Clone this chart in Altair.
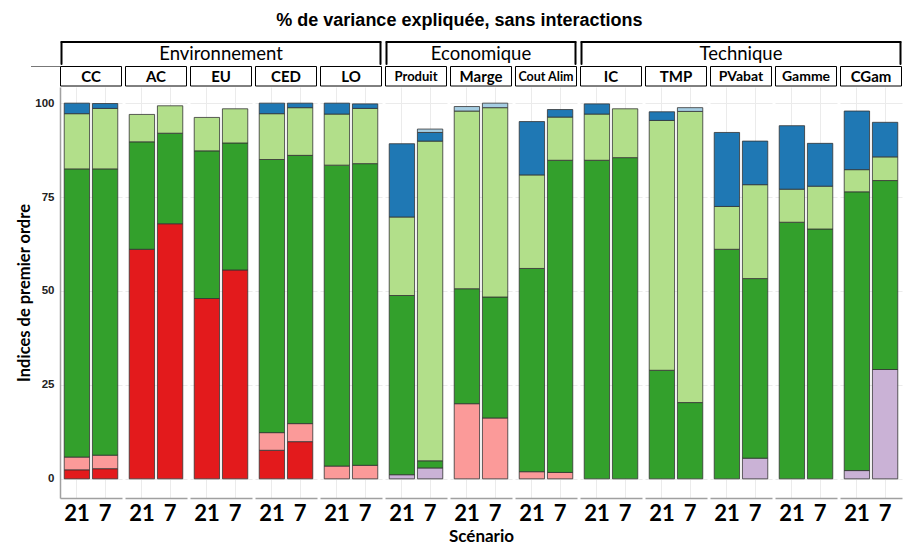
import altair as alt
import pandas as pd

# ---- data -------------------------------------------------------------
indicators = ["CC", "AC", "EU", "CED", "LO", "Produit", "Marge", "Cout Alim",
              "IC", "TMP", "PVabat", "Gamme", "CGam"]
group_names = ["Environnement", "Economique", "Technique"]
group_sizes = [5, 3, 5]
scenarios = ["21", "7"]

series = ["lavande", "rouge", "rose", "vert_fonce", "vert_clair", "bleu_fonce", "bleu_clair"]
colors = ["#cab2d6", "#e31a1c", "#fb9a99", "#33a02c", "#b2df8a", "#1f78b4", "#a6cee3"]

# one value per (indicator, scenario): CC21, CC7, AC21, AC7, ...
lavande = [0, 0, 0, 0, 0, 0, 0, 0, 0, 0, 1.1, 2.9, 0, 0, 0, 0,
           0, 0, 0, 0, 0, 5.5, 0, 0, 2.2, 29.1]
rouge = [2.4, 2.7, 61.1, 67.9, 48.0, 55.6, 7.6, 9.9, 0, 0, 0, 0, 0, 0, 0, 0,
         0, 0, 0, 0, 0, 0, 0, 0, 0, 0]
rose = [3.4, 3.6, 0, 0, 0, 0, 4.7, 4.8, 3.4, 3.6, 0, 0, 20.0, 16.2, 1.9, 1.7,
        0, 0, 0, 0, 0, 0, 0, 0, 0, 0]
vert_fonce = [76.7, 76.2, 28.6, 24.1, 39.3, 33.8, 72.7, 71.4, 80.1, 80.3, 47.7, 1.9,
              30.6, 32.2, 54.1, 83.1, 84.8, 85.5, 28.9, 20.3, 61.1, 47.8, 68.3, 66.5,
              74.2, 50.3]
vert_clair = [14.7, 16.1, 7.3, 7.3, 8.9, 9.1, 12.2, 12.7, 13.6, 14.7, 20.9, 85.1,
              47.3, 50.4, 24.9, 11.5, 12.3, 13.0, 66.5, 77.5, 11.4, 25.0, 8.8, 11.4,
              5.9, 6.3]
bleu_fonce = [2.8, 1.3, 0, 0, 0, 0, 2.8, 1.2, 2.9, 1.2, 19.5, 2.3, 0, 0, 14.2, 2.0,
              2.7, 0, 2.3, 0, 19.7, 11.6, 16.9, 11.4, 15.6, 9.2]
bleu_clair = [0, 0, 0, 0, 0, 0, 0, 0, 0, 0, 0, 0.9, 1.2, 1.2, 0, 0,
              0, 0, 0, 1.0, 0, 0, 0, 0, 0, 0]

series_values = [lavande, rouge, rose, vert_fonce, vert_clair, bleu_fonce, bleu_clair]

rows = []
for i, ind in enumerate(indicators):
    for j, sc in enumerate(scenarios):
        for k, s in enumerate(series):
            v = series_values[k][2 * i + j]
            if v > 0:
                rows.append({"indicator": ind, "scenario": sc, "series": s,
                             "rank": k, "value": v})
df = pd.DataFrame(rows)

# ---- layout -----------------------------------------------------------
W, S, H = 62, 3, 411
strip_sizes = {"Produit": 13, "Cout Alim": 12.5, "PVabat": 14, "Gamme": 14}
group_start = {}
start = 0
for g, n in zip(group_names, group_sizes):
    group_start[start] = (g, n)
    start += n

FONT = "Lato"


def panel(i):
    name = indicators[i]
    d = df[df.indicator == name]
    first = i == 0
    yaxis = alt.Axis(values=[0, 25, 50, 75, 100], grid=True, gridColor="#ebebeb",
                     gridWidth=1, labels=first, domain=first, ticks=False,
                     domainColor="#a0a0a0", domainWidth=1.5,
                     labelFont="Liberation Sans", labelFontWeight="bold",
                     labelFontSize=11.5, labelColor="#222222", labelPadding=6,
                     title="Indices de premier ordre" if first else None,
                     titleFont=FONT, titleFontSize=16.5, titleFontWeight="bold",
                     titleColor="#000000", titlePadding=2)
    xaxis = alt.Axis(grid=True, gridColor="#ebebeb", gridWidth=1, bandPosition=0.5,
                     ticks=False, domain=True, domainColor="#a0a0a0", domainWidth=1.5,
                     labelAngle=0, labelFont=FONT, labelFontWeight="bold",
                     labelFontSize=22, labelColor="#000000", labelPadding=5,
                     title="Scénario" if i == 6 else None,
                     titleFont=FONT, titleFontSize=17, titleFontWeight="bold",
                     titleColor="#000000", titlePadding=4)
    bars = alt.Chart(d).mark_bar(stroke="#333333", strokeWidth=0.8).encode(
        x=alt.X("scenario:N", sort=scenarios,
                scale=alt.Scale(domain=scenarios, paddingInner=0.1, paddingOuter=0.15),
                axis=xaxis),
        y=alt.Y("value:Q", stack="zero",
                scale=alt.Scale(domain=[-5.1, 104.3], nice=False, zero=False),
                axis=yaxis),
        color=alt.Color("series:N", scale=alt.Scale(domain=series, range=colors),
                        legend=None),
        order=alt.Order("rank:Q", sort="ascending"),
    )
    lab = pd.DataFrame({"label": [name]})
    box = alt.Chart(lab).mark_rect(fill="white", stroke="black", strokeWidth=1).encode(
        x=alt.value(0.5), x2=alt.value(W - 0.5), y=alt.value(-20.5), y2=alt.value(-1))
    txt = alt.Chart(lab).mark_text(font=FONT, fontWeight="bold",
                                   fontSize=strip_sizes.get(name, 15),
                                   baseline="middle", align="center",
                                   color="black").encode(
        text="label:N", x=alt.value(W / 2), y=alt.value(-10.5))
    layers = [bars, box, txt]
    if first:
        layers.append(alt.Chart(lab).mark_rule(color="#777777", strokeWidth=1).encode(
            x=alt.value(-29), x2=alt.value(0), y=alt.value(-20.5)))
    if i in group_start:
        g, n = group_start[i]
        span = n * W + (n - 1) * S
        gl = pd.DataFrame({"label": [g]})
        rule = dict(color="black", strokeWidth=2, strokeCap="round")
        layers += [
            alt.Chart(gl).mark_rule(**rule).encode(
                x=alt.value(1.5), x2=alt.value(span - 1.5), y=alt.value(-45)),
            alt.Chart(gl).mark_rule(**rule).encode(
                x=alt.value(1.5), y=alt.value(-45), y2=alt.value(-23)),
            alt.Chart(gl).mark_rule(**rule).encode(
                x=alt.value(span - 1.5), y=alt.value(-45), y2=alt.value(-23)),
            alt.Chart(gl).mark_text(font=FONT, fontSize=18.5, baseline="middle",
                                    align="center", color="black").encode(
                text="label:N", x=alt.value(span / 2), y=alt.value(-33)),
        ]
    return alt.layer(*layers).properties(width=W, height=H)


chart = alt.hconcat(
    *[panel(i) for i in range(len(indicators))],
    spacing=S, bounds="flush",
    title=alt.TitleParams("% de variance expliquée, sans interactions",
                          font="Liberation Sans", fontSize=18, fontWeight="bold",
                          color="black", anchor="middle", offset=11),
).resolve_scale(x="independent", y="independent", color="shared").properties(
    padding={"left": 8, "top": 3, "right": 3, "bottom": 0},
    background="white",
).configure_view(stroke="transparent")

chart.save("out.html", embed_options={"renderer": "svg", "actions": False})
